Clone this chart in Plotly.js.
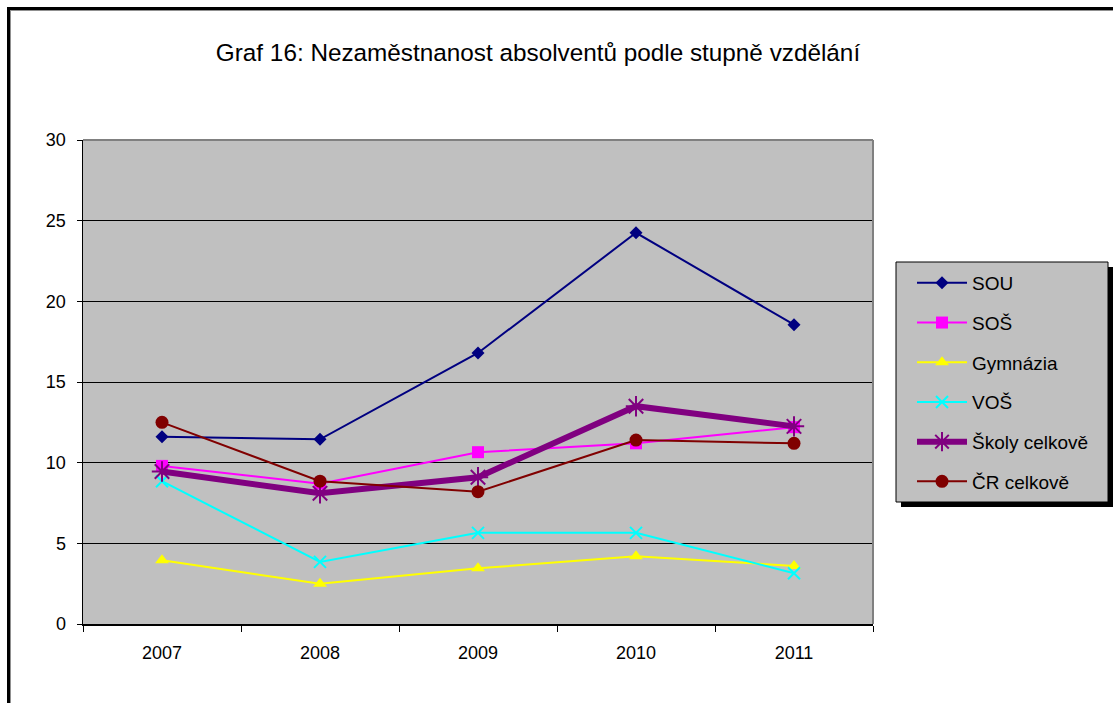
<!DOCTYPE html>
<html>
<head>
<meta charset="utf-8">
<script src="https://cdn.plot.ly/plotly-3.0.1.min.js"></script>
<style>
  html, body { margin: 0; padding: 0; background: #ffffff; }
  #chart { width: 1113px; height: 703px; }
</style>
</head>
<body>
<div id="chart"></div>
<script>
// ---- data ----
const years = ["2007", "2008", "2009", "2010", "2011"];
const seriesNames = ["SOU", "SOŠ", "Gymnázia", "VOŠ", "Školy celkově", "ČR celkově"];
const sou      = [11.6, 11.45, 16.8, 24.25, 18.55];
const sos      = [9.8, 8.7, 10.65, 11.2, 12.2];
const gymnazia = [3.95, 2.5, 3.45, 4.2, 3.6];
const vos      = [8.85, 3.85, 5.65, 5.65, 3.15];
const skoly    = [9.45, 8.1, 9.1, 13.5, 12.25];
const cr       = [12.5, 8.85, 8.2, 11.4, 11.2];
const yTicks   = [0, 5, 10, 15, 20, 25, 30];
const titleText = "Graf 16: Nezaměstnanost absolventů podle stupně vzdělání";

// ---- geometry helpers (plot area in px) ----
const W = 1113, H = 703;
const L = 83, R = 873, T = 140, B = 624;
const pw = R - L, ph = B - T;
const px = v => (v - L) / pw;
const py = v => (B - v) / ph;

const FONT = '"Liberation Sans", Arial, sans-serif';

function tr(name, y, color, width, symbol, size, extra) {
  return {
    type: 'scatter', mode: 'lines+markers', x: years, y: y, name: name,
    legendgroup: name,
    line: { color: color, width: width },
    marker: Object.assign({ color: color, symbol: symbol, size: size, line: { width: 0, color: color } }, extra || {}),
    hoverinfo: 'skip'
  };
}

const data = [
  tr(seriesNames[0], sou, '#000080', 2, 'diamond', 10),
  tr(seriesNames[1], sos, '#ff00ff', 2, 'square', 12),
  tr(seriesNames[2], gymnazia, '#ffff00', 2, 'triangle-up', 12),
  tr(seriesNames[3], vos, '#00ffff', 2, 'x-thin-open', 12, { line: { width: 2, color: '#00ffff' } }),
  tr(seriesNames[4], skoly, '#800080', 6, 'asterisk-open', 17, { line: { width: 2, color: '#800080' } }),
  tr(seriesNames[5], cr, '#800000', 2, 'circle', 13)
];

const shapes = [
  // page frame (left and top, black with thin grey inner edge)
  { type: 'line', xref: 'paper', yref: 'paper', x0: px(8.5), x1: px(8.5), y0: py(7), y1: py(710), line: { color: '#000', width: 3 } },
  { type: 'line', xref: 'paper', yref: 'paper', x0: px(7), x1: px(1120), y0: py(8.5), y1: py(8.5), line: { color: '#000', width: 3 } },
  { type: 'line', xref: 'paper', yref: 'paper', x0: px(10.5), x1: px(10.5), y0: py(10), y1: py(710), line: { color: '#909090', width: 1 } },
  { type: 'line', xref: 'paper', yref: 'paper', x0: px(10), x1: px(1120), y0: py(10.5), y1: py(10.5), line: { color: '#909090', width: 1 } },
  // plot area border top/right (grey)
  { type: 'line', xref: 'paper', yref: 'paper', x0: 0, x1: 1, y0: 1, y1: 1, line: { color: '#808080', width: 2 }, layer: 'above' },
  { type: 'line', xref: 'paper', yref: 'paper', x0: 1, x1: 1, y0: 0, y1: 1, line: { color: '#808080', width: 2 }, layer: 'above' },
  // legend shadow and box
  { type: 'rect', xref: 'paper', yref: 'paper', x0: px(901), x1: px(1113), y0: py(267), y1: py(507), fillcolor: '#000', line: { width: 0 } },
  { type: 'rect', xref: 'paper', yref: 'paper', x0: px(896), x1: px(1108), y0: py(262), y1: py(502), fillcolor: '#c0c0c0', line: { color: '#000', width: 1 } }
];

const layout = {
  width: W, height: H,
  margin: { l: L, r: W - R, t: T, b: H - B, pad: 0 },
  paper_bgcolor: '#ffffff',
  plot_bgcolor: '#c0c0c0',
  font: { family: FONT, color: '#000', size: 16 },
  title: {
    text: titleText,
    font: { family: FONT, size: 24.3, color: '#000' },
    xref: 'container', yref: 'container',
    x: 538 / W, xanchor: 'center',
    y: 1 - 52 / H, yanchor: 'middle'
  },
  xaxis: {
    type: 'category',
    range: [-0.5, 4.5],
    tickson: 'boundaries',
    ticks: 'outside', ticklen: 6, tickwidth: 1, tickcolor: '#000',
    showline: true, linecolor: '#000', linewidth: 2,
    showgrid: false, zeroline: false,
    tickfont: { family: FONT, size: 18, color: '#000' },
    ticklabelstandoff: 11,
    fixedrange: true
  },
  yaxis: {
    range: [0, 30],
    tickvals: yTicks,
    ticktext: yTicks.map(String),
    ticks: 'outside', ticklen: 5, tickwidth: 1, tickcolor: '#000',
    showline: true, linecolor: '#000', linewidth: 1.5,
    showgrid: true, gridcolor: '#000', gridwidth: 1,
    zeroline: false,
    tickfont: { family: FONT, size: 18, color: '#000' },
    ticklabelstandoff: 7,
    fixedrange: true
  },
  shapes: shapes,
  showlegend: true,
  legend: {
    x: px(912), xanchor: 'left',
    y: py(264), yanchor: 'top',
    bgcolor: 'rgba(0,0,0,0)',
    borderwidth: 0,
    font: { family: FONT, size: 19, color: '#000' },
    traceorder: 'grouped',
    tracegroupgap: 12,
    itemwidth: 50
  }
};

Plotly.newPlot('chart', data, layout, { staticPlot: true, displayModeBar: false });
</script>
</body>
</html>
